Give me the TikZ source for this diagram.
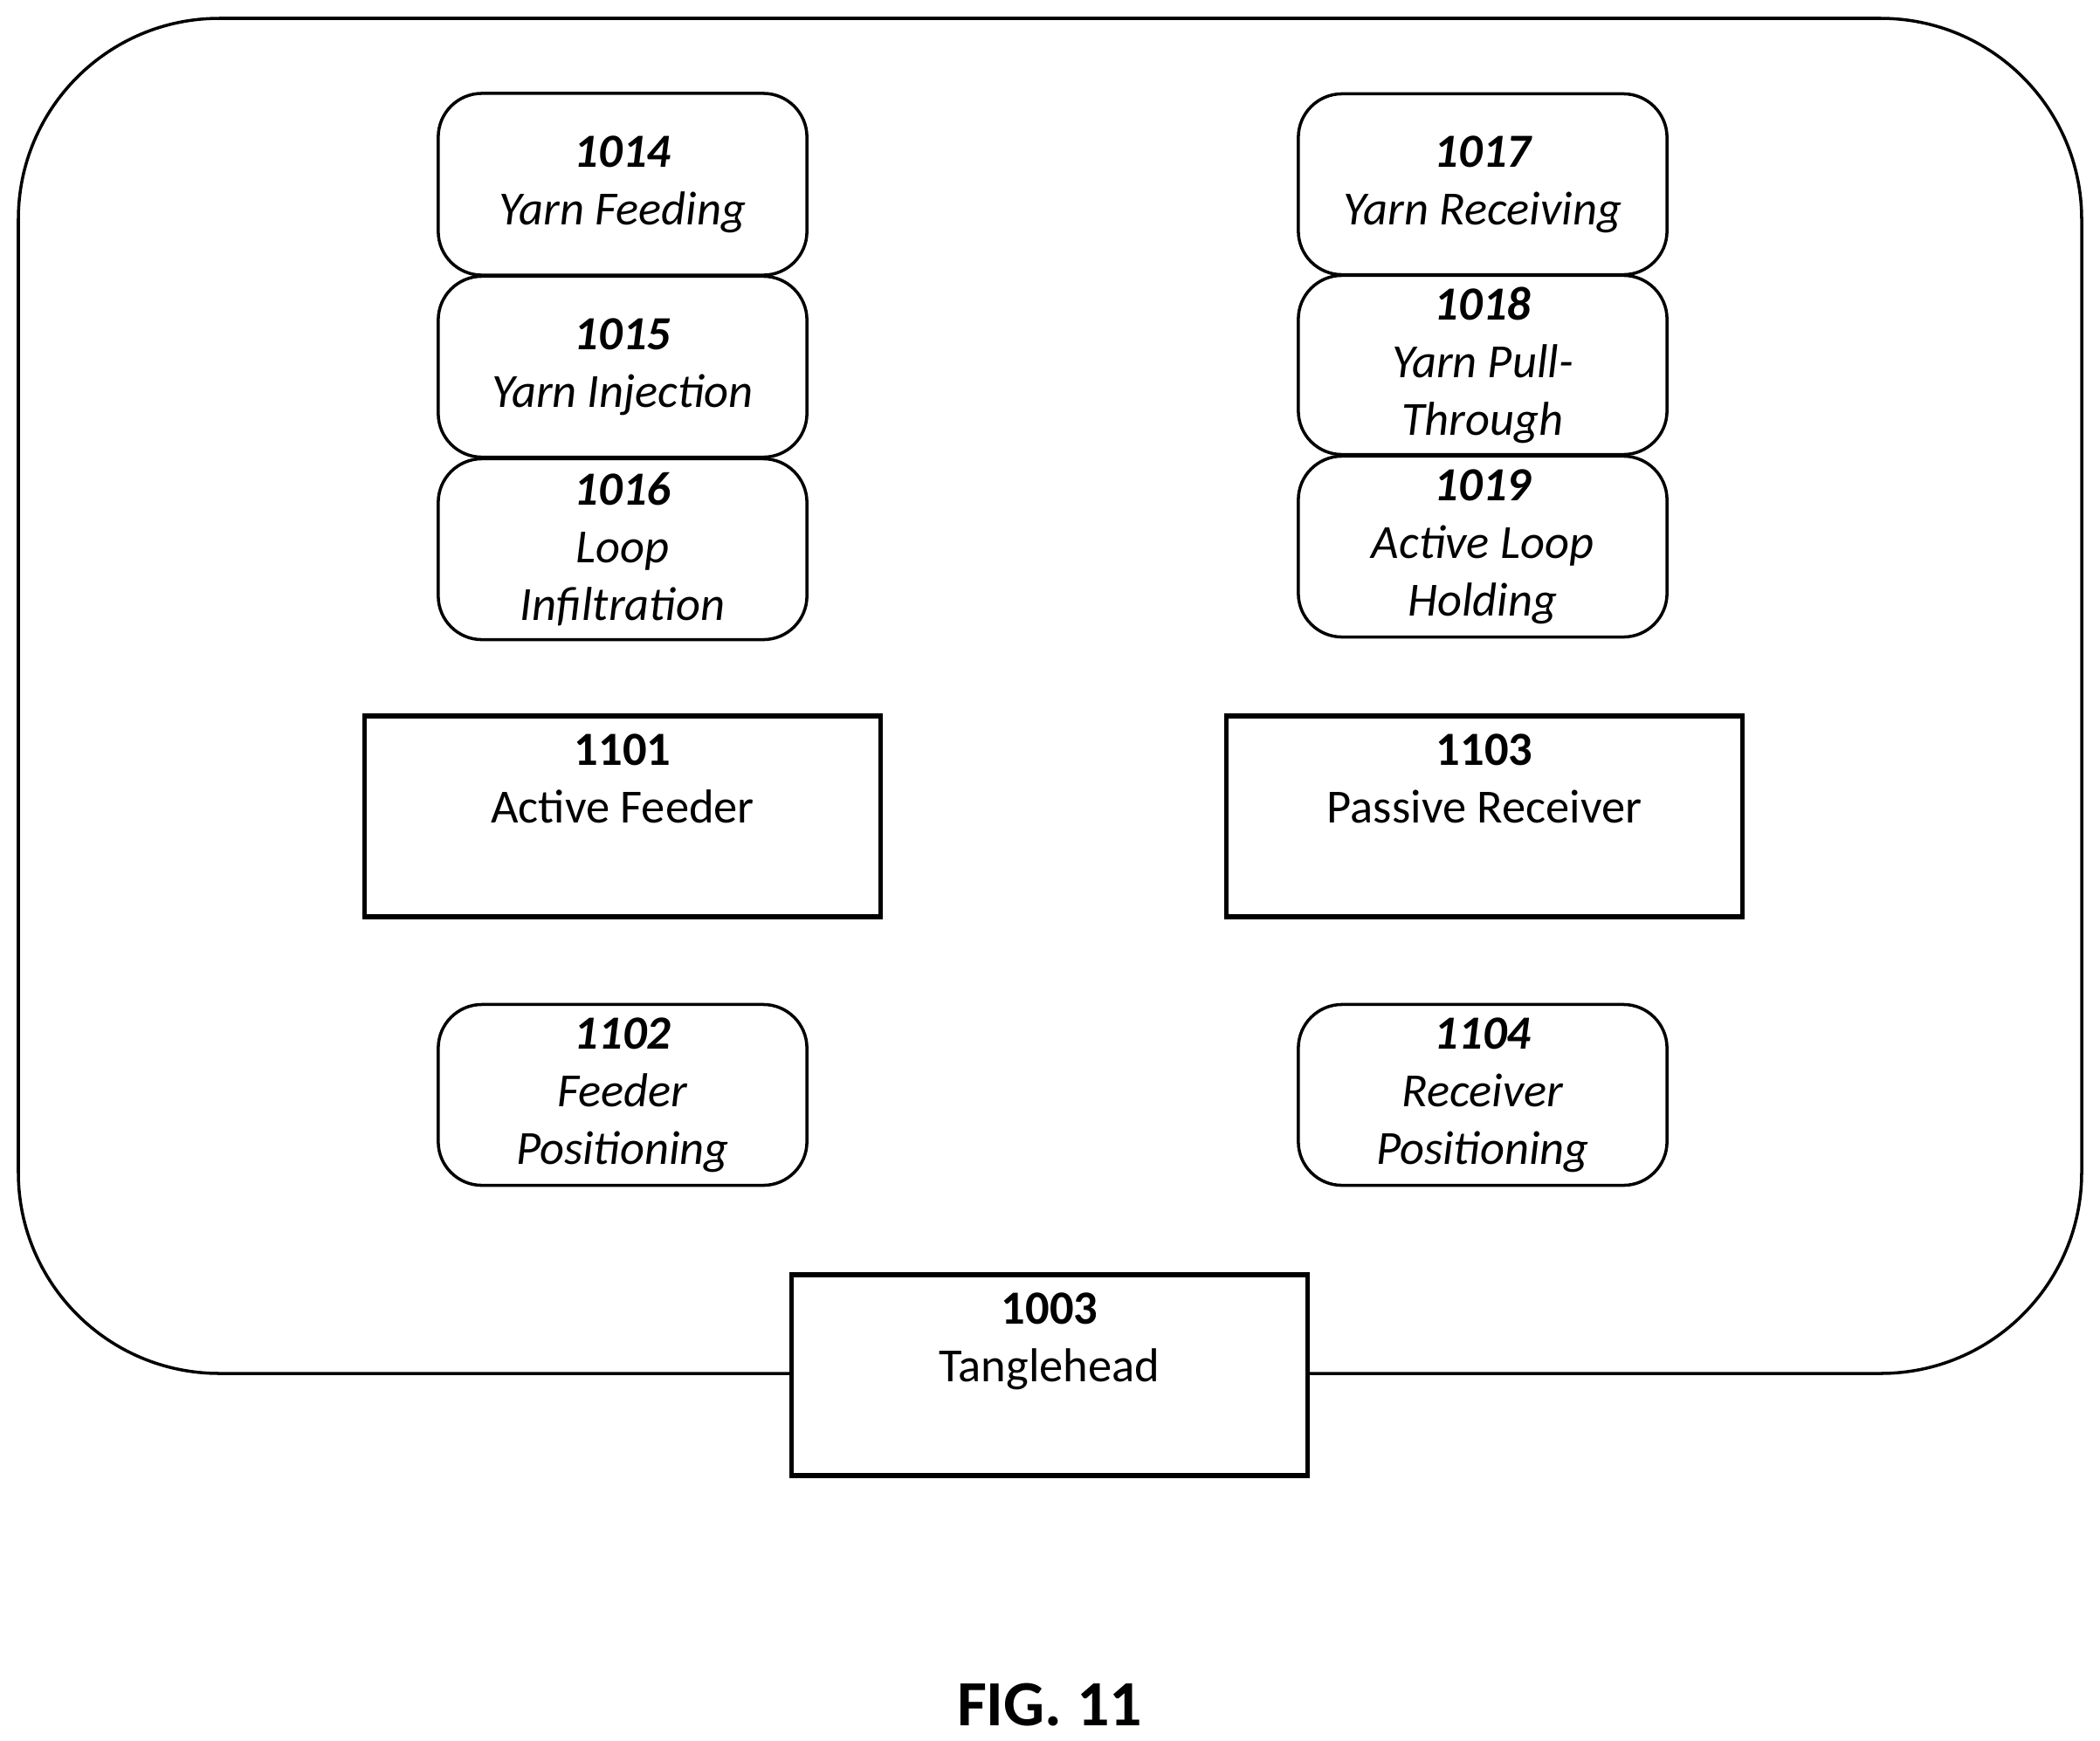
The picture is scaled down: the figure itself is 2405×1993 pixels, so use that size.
\documentclass[tikz,border=0pt]{standalone}
\usepackage{fontspec}
\setmainfont{Carlito}
\begin{document}
\begin{tikzpicture}[x=0.01cm,y=-0.01cm,
 rb/.style={draw,rounded corners=0.5cm,line width=1pt,minimum width=4.22cm,minimum height=2.07cm,align=center,font=\fontsize{15.5}{18.8}\selectfont\itshape,inner sep=0pt},
 sb/.style={draw,line width=1.5pt,minimum width=5.9cm,minimum height=2.3cm,align=center,font=\fontsize{15.5}{18.8}\selectfont,inner sep=0pt,fill=white}]
\useasboundingbox (0,0) rectangle (2405,1993);
\draw[line width=1pt,rounded corners=2.3cm] (21,21) rectangle (2384,1573);
\node[rb,minimum height=2.08cm] (n1014) at (713,211) {\textbf{1014}\\Yarn Feeding};
\node[rb] (n1015) at (713,420) {\textbf{1015}\\Yarn Injection};
\node[rb] (n1016) at (713,629) {\textbf{1016}\\Loop\\Infiltration};
\node[rb] (n1017) at (1698,211) {\textbf{1017}\\Yarn Receiving};
\node[rb,minimum height=2.05cm] (n1018) at (1698,418) {\textbf{1018}\\Yarn Pull-\\Through};
\node[rb] (n1019) at (1698,626) {\textbf{1019}\\Active Loop\\Holding};
\node[sb] (n1101) at (713,935) {\textbf{1101}\\Active Feeder\\\strut};
\node[sb] (n1103) at (1700,935) {\textbf{1103}\\Passive Receiver\\\strut};
\node[rb] (n1102) at (713,1254) {\textbf{1102}\\Feeder\\Positioning};
\node[rb] (n1104) at (1698,1254) {\textbf{1104}\\Receiver\\Positioning};
\node[sb] (n1003) at (1202,1575) {\textbf{1003}\\Tanglehead\\\strut};
\node[font=\fontsize{21}{25}\selectfont\bfseries] (fig) at (1202,1953) {FIG. 11};
\end{tikzpicture}
\end{document}
